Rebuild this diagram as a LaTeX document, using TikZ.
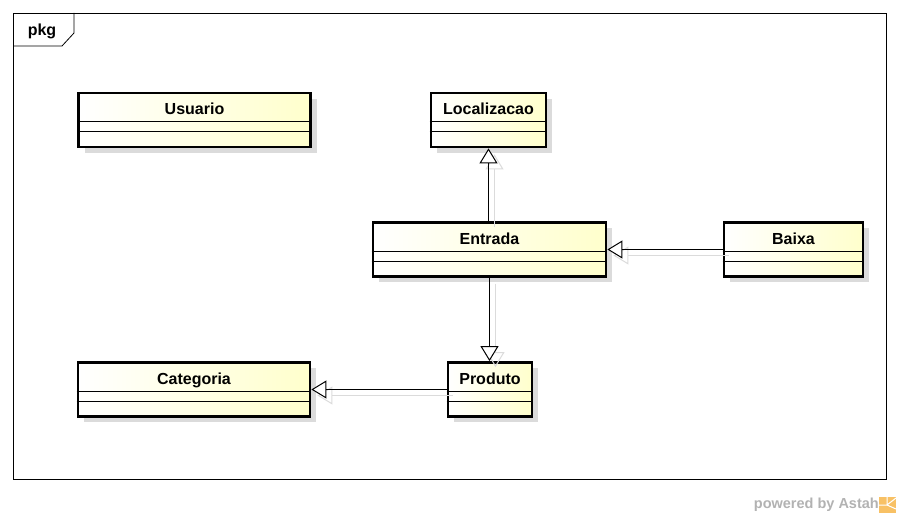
\documentclass[tikz,border=0pt]{standalone}
\usepackage{fontspec}
\setmainfont{Liberation Sans}
\usetikzlibrary{arrows.meta,positioning,shadows,calc}
\definecolor{classfill}{HTML}{FFFFCC}
\definecolor{astahorange}{HTML}{F5A623}

\tikzset{
  classbox/.style={draw, line width=2.8pt, left color=white, right color=classfill,
    general shadow={fill=black!14, shadow xshift=6pt, shadow yshift=-6pt},
    minimum height=54pt, inner sep=0pt},
  classname/.style={font=\fontsize{16}{19}\selectfont\bfseries, inner sep=0pt,
    text height=11.5pt, text depth=0pt},
  compline/.style={line width=.8pt},
  gen/.style={line width=1pt, -{Triangle[open, length=15pt, width=18pt, fill=white]}},
  genshadow/.style={draw=black!14, line width=1pt, -{Triangle[open, length=15pt, width=18pt]},
    transform canvas={shift={(6,6)}}}
}

\begin{document}
\begin{tikzpicture}[x=1pt,y=-1pt]
    \useasboundingbox (0,0) rectangle (900,518);
    % package frame
    \draw[line width=.8pt] (13,13) rectangle (886,479);
    \draw[line width=.8pt] (13,46) -- (62,46) -- (74,33) -- (74,13);
    \node[classname] (pkg) at (42,30) {pkg};
    % classes
    \node[classbox, minimum width=232pt] (usuario) at (194.5,120) {};
    \node[classbox, minimum width=115pt] (localizacao) at (488.5,120) {};
    \node[classbox, minimum width=233pt] (entrada) at (489.5,249.5) {};
    \node[classbox, minimum width=139pt] (baixa) at (793.5,249.5) {};
    \node[classbox, minimum width=84pt] (produto) at (490,389.5) {};
    \node[classbox, minimum width=232pt] (categoria) at (194,389.5) {};
    \foreach \c/\t in {usuario/Usuario, localizacao/Localizacao, entrada/Entrada,
        baixa/Baixa, produto/Produto, categoria/Categoria} {
      \draw[compline] ($(\c.north west)+(0,30)$) -- ($(\c.north east)+(0,30)$)
        ($(\c.north west)+(0,40)$) -- ($(\c.north east)+(0,40)$);
      \node[classname] (\c name) at ($(\c.north)+(0,17.5)$) {\t};
    }
    % generalizations
    \draw[genshadow] (entrada.north -| localizacao) -- (localizacao.south);
    \draw[genshadow] (baixa.west) -- (entrada.east);
    \draw[genshadow] (entrada.south) -- (produto.north -| entrada.south);
    \draw[genshadow] (produto.west) -- (categoria.east);
    \draw[gen] (entrada.north -| localizacao) -- (localizacao.south);
    \draw[gen] (baixa.west) -- (entrada.east);
    \draw[gen] (entrada.south) -- (produto.north -| entrada.south);
    \draw[gen] (produto.west) -- (categoria.east);
    % footer
    \node[font=\fontsize{14.5}{16}\selectfont\bfseries, text=black!30, anchor=east, inner sep=0pt]
      (powered) at (879,505) {powered by Astah};
    \fill[astahorange!70] (879,497) rectangle (896,513);
    \draw[white, line width=1pt] (887,497) -- (887,505) -- (879,505)
      (887,505) -- (896,498) (887,505) -- (896,509);
  \end{tikzpicture}
\end{document}
